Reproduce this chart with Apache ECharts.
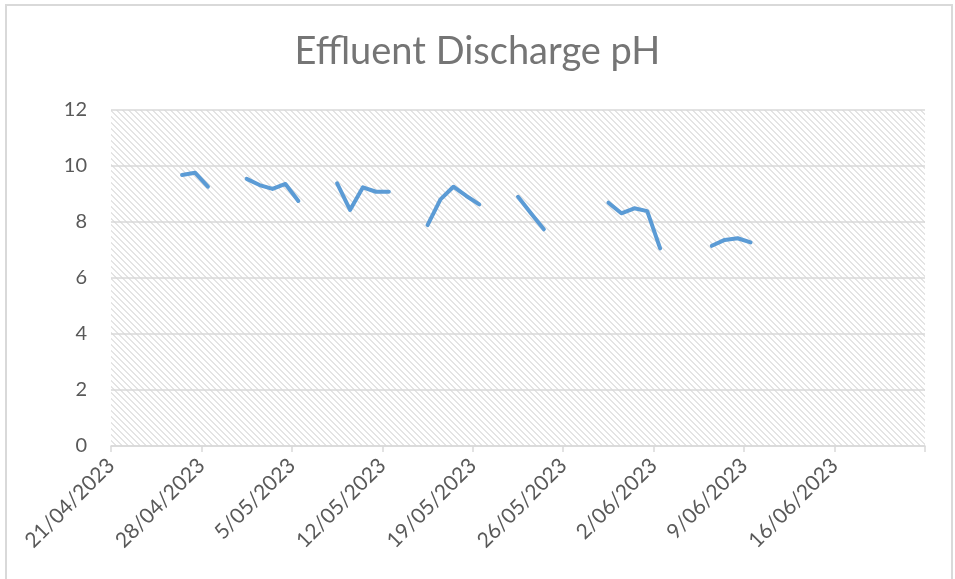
<!DOCTYPE html>
<html>
<head>
<meta charset="utf-8">
<script src="https://cdn.jsdelivr.net/npm/echarts@6/dist/echarts.min.js"></script>
<style>
  html, body { margin: 0; padding: 0; background: #fff; }
  #chart { width: 955px; height: 579px; }
</style>
</head>
<body>
<div id="chart"></div>
<script>
// sample dates (weekdays only, gaps = no sample)
var sampleDates = [
  '26/04/2023', '27/04/2023', '28/04/2023',
  '01/05/2023', '02/05/2023', '03/05/2023', '04/05/2023', '05/05/2023',
  '08/05/2023', '09/05/2023', '10/05/2023', '11/05/2023', '12/05/2023',
  '15/05/2023', '16/05/2023', '17/05/2023', '18/05/2023', '19/05/2023',
  '22/05/2023', '23/05/2023', '24/05/2023',
  '29/05/2023', '30/05/2023', '31/05/2023', '01/06/2023', '02/06/2023',
  '06/06/2023', '07/06/2023', '08/06/2023', '09/06/2023'
];
var phValues = [
  9.68, 9.76, 9.26,
  9.54, 9.32, 9.18, 9.36, 8.75,
  9.38, 8.43, 9.24, 9.08, 9.08,
  7.89, 8.81, 9.26, 8.93, 8.63,
  8.90, 8.31, 7.74,
  8.69, 8.31, 8.49, 8.39, 7.06,
  7.15, 7.36, 7.42, 7.27
];
var tickLabels = [
  '21/04/2023', '28/04/2023', '5/05/2023', '12/05/2023', '19/05/2023',
  '26/05/2023', '2/06/2023', '9/06/2023', '16/06/2023'
];
var axisStart = '21/04/2023';
var axisDays = 63;

function dayIndex(s) {
  var p = s.split('/');
  var a = axisStart.split('/');
  return (Date.UTC(+p[2], +p[1] - 1, +p[0]) - Date.UTC(+a[2], +a[1] - 1, +a[0])) / 86400000;
}

// points sit in the middle of their day; a missing day breaks the line
var lineData = [];
var prev = null;
sampleDates.forEach(function (d, i) {
  var idx = dayIndex(d);
  if (prev !== null && idx - prev > 1) lineData.push([prev + 1.5, '-']);
  lineData.push([idx + 0.5, phValues[i]]);
  prev = idx;
});

// diagonal hatch fill for the plot area
var pat = document.createElement('canvas');
pat.width = 6; pat.height = 6;
var pc = pat.getContext('2d');
pc.fillStyle = '#ffffff';
pc.fillRect(0, 0, 6, 6);
pc.fillStyle = '#e4e4e4';
for (var k = 0; k < 6; k++) {
  pc.fillRect(k, k, 1, 1);
  pc.fillRect((k + 1) % 6, k, 1, 1);
}

var chart = echarts.init(document.getElementById('chart'));
var font = 'Lato, "Open Sans", sans-serif';

chart.setOption({
  backgroundColor: '#fff',
  animation: false,
  title: {
    text: 'Effluent Discharge pH',
    left: 'center',
    top: 28,
    textStyle: { fontFamily: font, fontSize: 38, fontWeight: 'normal', color: '#757575' }
  },
  grid: {
    left: 111, right: 30, top: 110, bottom: 133,
    show: true,
    borderWidth: 0,
    backgroundColor: { image: pat, repeat: 'repeat' }
  },
  xAxis: {
    type: 'value',
    min: 0,
    max: axisDays,
    interval: 7,
    splitLine: { show: false },
    axisLine: { lineStyle: { color: '#d9d9d9', width: 1.5 } },
    axisTick: { show: true, length: 6, lineStyle: { color: '#d9d9d9', width: 1.5 } },
    axisLabel: {
      rotate: 45,
      margin: 16,
      fontFamily: font,
      fontSize: 21,
      color: '#595959',
      showMaxLabel: true,
      formatter: function (v) { return tickLabels[Math.round(v / 7)] || ''; }
    }
  },
  yAxis: {
    type: 'value',
    min: 0,
    max: 12,
    interval: 2,
    axisLine: { show: false },
    axisTick: { show: false },
    splitLine: { lineStyle: { color: '#d9d9d9', width: 1.5 } },
    axisLabel: { margin: 24, fontFamily: font, fontSize: 20, color: '#595959' }
  },
  series: [{
    type: 'line',
    data: lineData,
    showSymbol: false,
    connectNulls: false,
    lineStyle: { color: '#5b9bd5', width: 4, cap: 'round', join: 'round' }
  }],
  graphic: [{
    type: 'rect',
    shape: { x: 6, y: 5, width: 946, height: 600 },
    style: { fill: null, stroke: '#d9d9d9', lineWidth: 2 },
    silent: true
  }]
});
</script>
</body>
</html>
